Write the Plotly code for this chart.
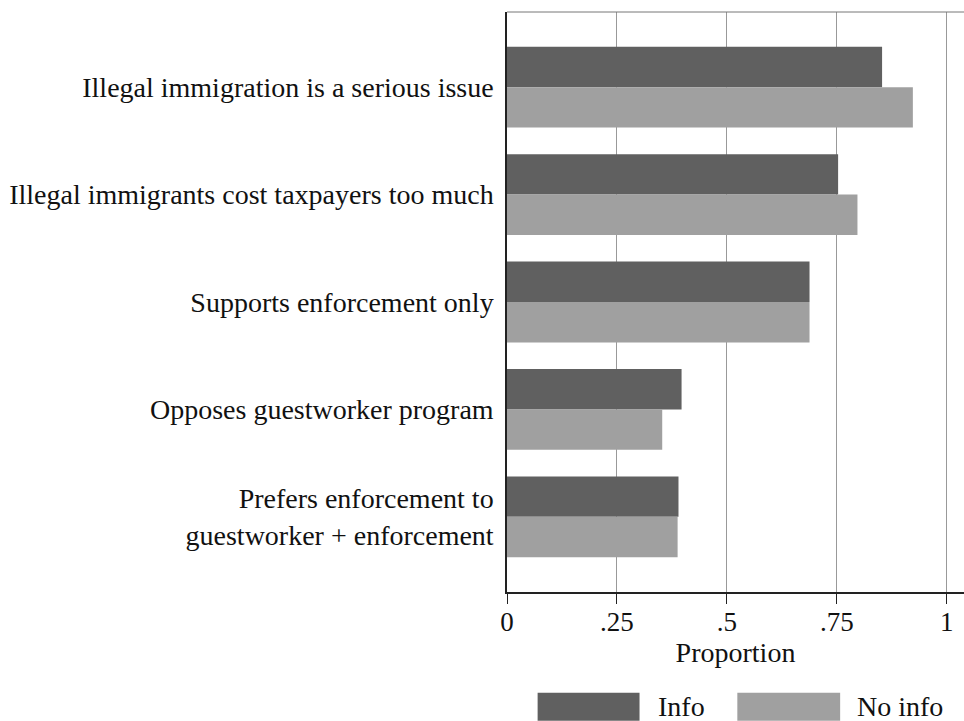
import plotly.graph_objects as go

categories = [
    "Illegal immigration is a serious issue",
    "Illegal immigrants cost taxpayers too much",
    "Supports enforcement only",
    "Opposes guestworker program",
    "Prefers enforcement to<br>guestworker + enforcement",
]
info_values = [0.853, 0.753, 0.688, 0.397, 0.390]
noinfo_values = [0.923, 0.797, 0.688, 0.353, 0.388]
series_names = ["Info", "No info"]
x_tick_vals = [0, 0.25, 0.5, 0.75, 1]
x_tick_text = ["0", ".25", ".5", ".75", "1"]

DARK = "#606060"
LIGHT = "#a0a0a0"
FONT = "Liberation Serif"
FS = 28

fig = go.Figure()
fig.add_trace(go.Bar(y=categories, x=info_values, orientation="h", name=series_names[0],
                     marker=dict(color=DARK, line=dict(width=0))))
fig.add_trace(go.Bar(y=categories, x=noinfo_values, orientation="h", name=series_names[1],
                     marker=dict(color=LIGHT, line=dict(width=0))))

W, H = 964, 721
L, R, T, B = 506.5, 0, 12, 129
plot_w = W - L - R
px_per_unit = 440.2
xmax = plot_w / px_per_unit

fig.update_layout(
    width=W, height=H,
    margin=dict(l=L, r=R, t=T, b=B, autoexpand=False),
    paper_bgcolor="white", plot_bgcolor="white",
    barmode="group", bargap=0.247, bargroupgap=0,
    showlegend=False,
    font=dict(family=FONT, size=FS, color="#111111"),
)
fig.update_xaxes(
    range=[0, xmax], tickvals=x_tick_vals, ticktext=x_tick_text,
    showgrid=True, gridcolor="#999999", gridwidth=1,
    showline=True, linecolor="#222222", linewidth=1.5,
    ticks="outside", ticklen=10, tickcolor="#222222", tickwidth=1.2,
    zeroline=False, ticklabelstandoff=-5,
    title=dict(text="Proportion", standoff=0, font=dict(size=FS)),
    tickfont=dict(size=FS - 1), automargin=False,
)
fig.update_yaxes(
    autorange=False, range=[4.7, -0.7],
    showline=True, linecolor="#222222", linewidth=1.5,
    showgrid=False, ticks="", ticklabelstandoff=6,
    tickfont=dict(size=FS), automargin=False,
)

# top border of the plot region
fig.add_shape(type="line", xref="paper", yref="paper", x0=0, x1=1, y0=1, y1=1,
              line=dict(color="#777777", width=1))

# manual legend with wide swatches
legend_items = [(series_names[0], DARK, 0.067, 0.290, 0.325),
                (series_names[1], LIGHT, 0.504, 0.729, 0.762)]
for name, col, x0, x1, xt in legend_items:
    fig.add_shape(type="rect", xref="paper", yref="paper", x0=x0, x1=x1,
                  y0=-0.2219, y1=-0.1736, fillcolor=col, line=dict(width=0))
    fig.add_annotation(xref="paper", yref="paper", x=xt, y=-0.198, text=name,
                       showarrow=False, xanchor="left", yanchor="middle",
                       font=dict(size=FS, family=FONT, color="#111111"))

fig.write_html(
    "out.html",
    config={"displayModeBar": False},
    post_script="document.body.style.margin='0';document.body.style.overflow='hidden';",
)
